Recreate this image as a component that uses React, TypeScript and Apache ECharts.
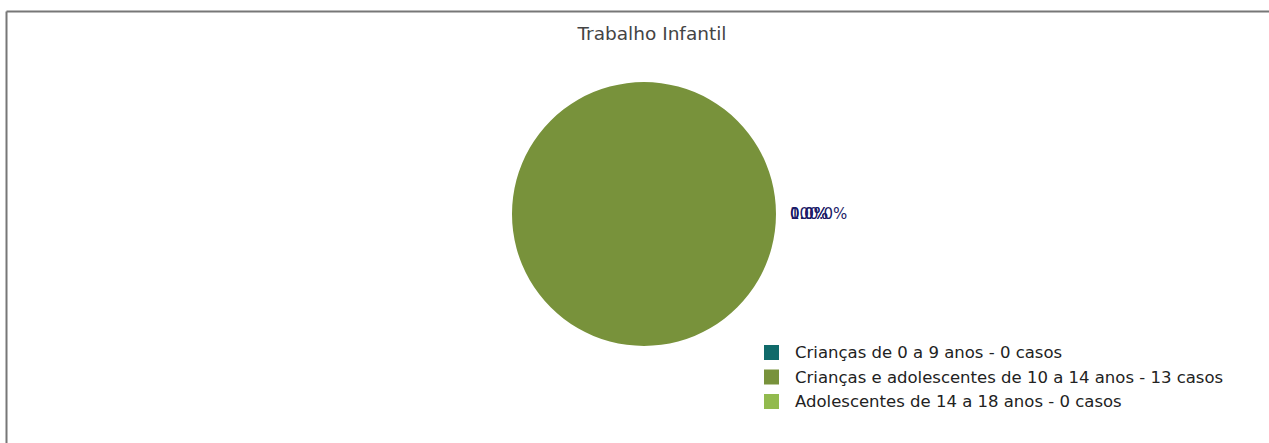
import React, { useEffect, useRef } from "react";
import * as echarts from "echarts";

const title = "Trabalho Infantil";
const categories = [
  "Crianças de 0 a 9 anos",
  "Crianças e adolescentes de 10 a 14 anos",
  "Adolescentes de 14 a 18 anos",
];
const values = [0, 13, 0];
const colors = ["#106a6a", "#78923b", "#92ba4e"];

export default function App() {
  const ref = useRef<HTMLDivElement>(null);
  useEffect(() => {
    if (!ref.current) return;
    const chart = echarts.init(ref.current, null, { renderer: "svg" });
    const total = values.reduce((a, b) => a + b, 0);
    const names = categories.map((c, i) => `${c} - ${values[i]} casos`);
    const pctTexts = values.map((v) => ({
      type: "text",
      x: 790,
      y: 214,
      style: {
        text: (total ? (v / total) * 100 : 0).toFixed(1) + "%",
        fill: "#1a1a66",
        font: "15px 'DejaVu Sans'",
        verticalAlign: "middle",
        align: "left",
      },
    }));
    chart.setOption({
      animation: false,
      backgroundColor: "#ffffff",
      title: {
        text: title,
        left: 647,
        textAlign: "center",
        top: 19,
        textStyle: {
          fontFamily: "DejaVu Sans",
          fontSize: 18.5,
          fontWeight: "normal",
          color: "#444",
        },
      },
      legend: {
        orient: "vertical",
        left: 759,
        top: 339,
        itemWidth: 15,
        itemHeight: 15,
        itemGap: 7.5,
        icon: "rect",
        selectedMode: false,
        data: names,
        textStyle: {
          fontFamily: "DejaVu Sans",
          fontSize: 16.5,
          lineHeight: 15,
          color: "#222",
          padding: [0, 0, 0, 11],
        },
      },
      series: [
        {
          type: "pie",
          center: [644, 214],
          radius: 132,
          startAngle: 90,
          label: { show: false },
          labelLine: { show: false },
          emphasis: { disabled: true },
          data: names.map((n, i) => ({
            name: n,
            value: values[i],
            itemStyle: { color: colors[i] },
          })),
        },
      ],
      graphic: [
        {
          type: "line",
          shape: { x1: 6.5, y1: 11.5, x2: 1269, y2: 11.5 },
          style: { stroke: "#777", lineWidth: 2 },
        },
        {
          type: "line",
          shape: { x1: 6.5, y1: 11.5, x2: 6.5, y2: 443 },
          style: { stroke: "#777", lineWidth: 2 },
        },
        ...pctTexts,
      ],
    });
    return () => chart.dispose();
  }, []);
  return (
    <div
      ref={ref}
      style={{ position: "absolute", left: 0, top: 0, width: 1269, height: 443 }}
    />
  );
}
